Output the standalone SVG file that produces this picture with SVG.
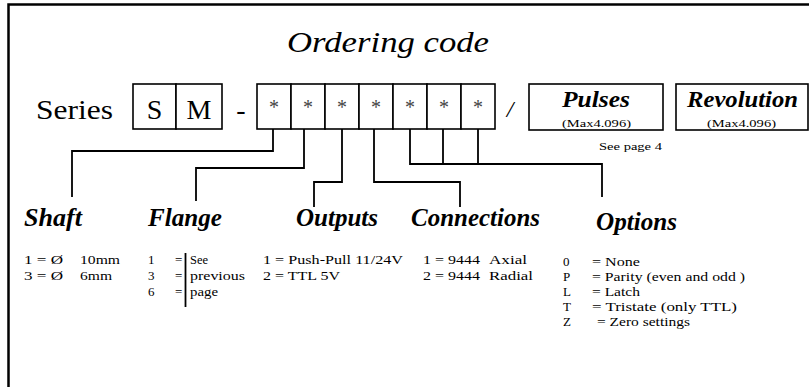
<svg xmlns="http://www.w3.org/2000/svg" width="809" height="387" viewBox="0 0 809 387">
<style>
.t{font-family:'Liberation Serif','DejaVu Serif',serif;fill:#000}
.title{font-size:30px;font-style:italic}
.big{font-size:28px}
.hd{font-size:25px;font-style:italic;font-weight:bold}
.sm{font-size:13px}
.xs{font-size:10px}
.star{font-family:'Liberation Serif','DejaVu Serif',serif;font-size:20px;fill:#444;text-anchor:middle}
.box{fill:#fff;stroke:#000;stroke-width:1.6}
.ln{fill:none;stroke:#000;stroke-width:1.8}
</style>
<rect x="0" y="0" width="809" height="387" fill="#fff"/>
<rect x="8.5" y="4.5" width="900" height="500" fill="none" stroke="#000" stroke-width="2.5"/>

<text class="t title" x="287" y="52" textLength="202" lengthAdjust="spacingAndGlyphs">Ordering code</text>

<g id="series">
<text class="t big" x="36" y="119" textLength="77" lengthAdjust="spacingAndGlyphs">Series</text>
</g>
<g id="box-S">
<rect class="box" x="133" y="84" width="43" height="45"/>
<text class="t big" x="154.5" y="119" text-anchor="middle">S</text>
</g>
<g id="box-M">
<rect class="box" x="176" y="84" width="46" height="45"/>
<text class="t big" x="199" y="119" text-anchor="middle">M</text>
</g>
<text class="t big" x="241" y="119" text-anchor="middle">-</text>
<g id="star-boxes">
<rect class="box" x="257" y="84" width="34" height="45"/>
<rect class="box" x="291" y="84" width="34" height="45"/>
<rect class="box" x="325" y="84" width="34" height="45"/>
<rect class="box" x="359" y="84" width="34" height="45"/>
<rect class="box" x="393" y="84" width="34" height="45"/>
<rect class="box" x="427" y="84" width="34" height="45"/>
<rect class="box" x="461" y="84" width="34" height="45"/>
<text class="star" x="274" y="114">*</text>
<text class="star" x="308" y="114">*</text>
<text class="star" x="342" y="114">*</text>
<text class="star" x="376" y="114">*</text>
<text class="star" x="410" y="114">*</text>
<text class="star" x="444" y="114">*</text>
<text class="star" x="478" y="114">*</text>
</g>
<text class="t" x="510" y="117" font-size="24" font-style="italic" text-anchor="middle">/</text>
<g id="pulses">
<rect class="box" x="529" y="84" width="134" height="46"/>
<text class="t hd" x="562" y="107" textLength="68" lengthAdjust="spacingAndGlyphs" style="font-size:24px">Pulses</text>
<text class="t" x="562" y="127" font-size="10" textLength="69" lengthAdjust="spacingAndGlyphs">(Max4.096)</text>
</g>
<g id="revolution">
<rect class="box" x="676" y="84" width="132" height="46"/>
<text class="t hd" x="687" y="107" textLength="111" lengthAdjust="spacingAndGlyphs" style="font-size:24px">Revolution</text>
<text class="t" x="707" y="127" font-size="10" textLength="69" lengthAdjust="spacingAndGlyphs">(Max4.096)</text>
</g>
<text class="t xs" x="599" y="150" textLength="63" lengthAdjust="spacingAndGlyphs">See page 4</text>

<g id="connectors">
<polyline class="ln" points="273,129 273,151 72,151 72,197"/>
<polyline class="ln" points="304,129 304,168 196,168 196,201"/>
<polyline class="ln" points="342,129 342,182 314,182 314,207"/>
<polyline class="ln" points="374,129 374,182 460,182 460,207"/>
<polyline class="ln" points="410,129 410,164 602,164 602,197"/>
<line class="ln" x1="443" y1="129" x2="443" y2="164"/>
<line class="ln" x1="478" y1="129" x2="478" y2="164"/>
</g>

<g id="shaft">
<text class="t hd" x="24" y="226" textLength="58" lengthAdjust="spacingAndGlyphs">Shaft</text>
<text class="t sm" x="24" y="264" textLength="39" lengthAdjust="spacingAndGlyphs">1 = Ø</text><text class="t sm" x="80" y="264" textLength="40" lengthAdjust="spacingAndGlyphs">10mm</text>
<text class="t sm" x="24" y="280" textLength="39" lengthAdjust="spacingAndGlyphs">3 = Ø</text><text class="t sm" x="80" y="280" textLength="32" lengthAdjust="spacingAndGlyphs">6mm</text>
</g>
<g id="flange">
<text class="t hd" x="148" y="226" textLength="74" lengthAdjust="spacingAndGlyphs">Flange</text>
<text class="t sm" x="148" y="264">1</text><text class="t sm" x="175" y="264">=</text>
<text class="t sm" x="148" y="280">3</text><text class="t sm" x="175" y="280">=</text>
<text class="t sm" x="148" y="296">6</text><text class="t sm" x="175" y="296">=</text>
<line class="ln" x1="185.5" y1="253" x2="185.5" y2="307" stroke-width="1.5"/>
<text class="t sm" x="190" y="264" textLength="18" lengthAdjust="spacingAndGlyphs">See</text>
<text class="t sm" x="190" y="280" textLength="55" lengthAdjust="spacingAndGlyphs">previous</text>
<text class="t sm" x="190" y="296" textLength="28" lengthAdjust="spacingAndGlyphs">page</text>
</g>
<g id="outputs">
<text class="t hd" x="296" y="226" textLength="82" lengthAdjust="spacingAndGlyphs">Outputs</text>
<text class="t sm" x="263" y="264" textLength="140" lengthAdjust="spacingAndGlyphs">1 = Push-Pull 11/24V</text>
<text class="t sm" x="263" y="280" textLength="77" lengthAdjust="spacingAndGlyphs">2 = TTL 5V</text>
</g>
<g id="connections">
<text class="t hd" x="411" y="226" textLength="129" lengthAdjust="spacingAndGlyphs">Connections</text>
<text class="t sm" x="423" y="264" textLength="57" lengthAdjust="spacingAndGlyphs">1 = 9444</text>
<text class="t sm" x="489" y="264" textLength="38" lengthAdjust="spacingAndGlyphs">Axial</text>
<text class="t sm" x="423" y="280" textLength="57" lengthAdjust="spacingAndGlyphs">2 = 9444</text>
<text class="t sm" x="489" y="280" textLength="44" lengthAdjust="spacingAndGlyphs">Radial</text>
</g>
<g id="options">
<text class="t hd" x="596" y="230" textLength="81" lengthAdjust="spacingAndGlyphs">Options</text>
<text class="t sm" x="563" y="266">0</text>
<text class="t sm" x="592" y="266" textLength="48" lengthAdjust="spacingAndGlyphs">= None</text>
<text class="t sm" x="563" y="281">P</text>
<text class="t sm" x="592" y="281" textLength="153" lengthAdjust="spacingAndGlyphs">= Parity (even and odd )</text>
<text class="t sm" x="563" y="296">L</text>
<text class="t sm" x="592" y="296" textLength="48" lengthAdjust="spacingAndGlyphs">= Latch</text>
<text class="t sm" x="563" y="311">T</text>
<text class="t sm" x="592" y="311" textLength="145" lengthAdjust="spacingAndGlyphs">= Tristate (only TTL)</text>
<text class="t sm" x="563" y="326">Z</text>
<text class="t sm" x="597" y="326" textLength="93" lengthAdjust="spacingAndGlyphs">= Zero settings</text>
</g>
</svg>
